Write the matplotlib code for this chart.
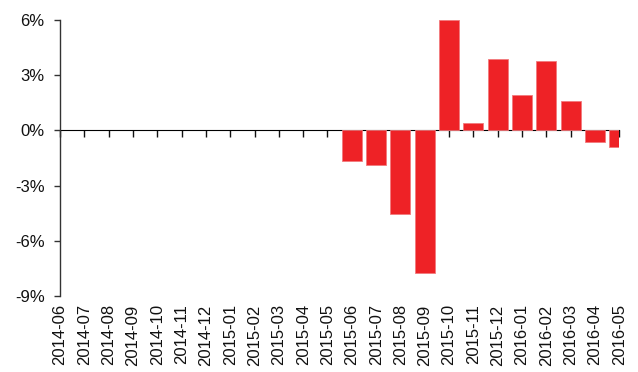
import matplotlib
matplotlib.use("Agg")
import matplotlib.pyplot as plt
from matplotlib.ticker import FuncFormatter

plt.rcParams['font.family'] = ['Liberation Sans', 'DejaVu Sans']

months = ["2014-06", "2014-07", "2014-08", "2014-09", "2014-10", "2014-11",
          "2014-12", "2015-01", "2015-02", "2015-03", "2015-04", "2015-05",
          "2015-06", "2015-07", "2015-08", "2015-09", "2015-10", "2015-11",
          "2015-12", "2016-01", "2016-02", "2016-03", "2016-04", "2016-05"]
change_pct = [0, 0, 0, 0, 0, 0, 0, 0, 0, 0, 0, 0,
              -1.65, -1.9, -4.55, -7.75, 5.98, 0.38,
              3.88, 1.93, 3.75, 1.58, -0.65, -0.92]
y_ticks = [6, 3, 0, -3, -6, -9]

W, H = 638, 372
fig = plt.figure(figsize=(W / 100, H / 100), dpi=100)
ax = fig.add_axes([60 / W, 76 / H, (619.3 - 60) / W, (296 - 20) / H])

x = list(range(len(months)))
edge_w = [0.6 if v != 0 else 0 for v in change_pct]
ax.bar(x, change_pct, width=0.82, color="#EE2226", edgecolor="#F27A7D",
       linewidth=edge_w, zorder=2)

ax.set_xlim(0, len(months) - 1)
ax.set_ylim(-9, 6)
ax.set_yticks(y_ticks)
ax.yaxis.set_major_formatter(FuncFormatter(lambda v, p: f"{v:.0f}%"))

for s in ("top", "right", "bottom"):
    ax.spines[s].set_visible(False)
ax.spines["left"].set_color("#333333")
ax.spines["left"].set_linewidth(1.0)
ax.tick_params(axis="y", direction="out", length=4, width=1.0,
               color="#333333", labelsize=12, pad=7, labelcolor="#111111")

# category labels below the plot area
ax.set_xticks(x)
ax.set_xticklabels(months, rotation=90, fontsize=12, color="#111111")
ax.tick_params(axis="x", length=0, pad=6)

# zero baseline carrying the month ticks
zero = ax.secondary_xaxis(9 / 15)
zero.set_xticks(x)
zero.set_xticklabels([])
zero.spines["bottom"].set_color("#111111")
zero.spines["bottom"].set_linewidth(1.0)
zero.spines["bottom"].set_zorder(3)
zero.tick_params(axis="x", direction="in", length=5, width=1.0,
                 color="#111111")

fig.savefig("out.png", dpi=100)
